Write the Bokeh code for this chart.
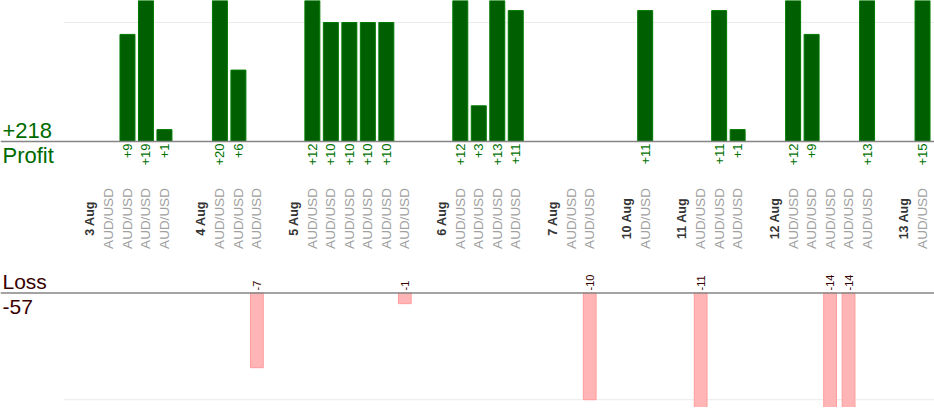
from math import pi
from bokeh.plotting import figure
from bokeh.models import Range1d, Span
from bokeh.core.properties import value
from bokeh.embed import file_html
from bokeh.resources import INLINE

# ---------------- data ----------------
days = ["3 Aug", "4 Aug", "5 Aug", "6 Aug", "7 Aug", "10 Aug", "11 Aug", "12 Aug", "13 Aug"]
trades_per_day = [4, 3, 6, 4, 2, 1, 3, 5, 1]
pairs = ["AUD/USD"] * 29
results = [0, 9, 19, 1,
           20, 6, -7,
           12, 10, 10, 10, 10, -1,
           12, 3, 13, 11,
           0, -10,
           11,
           -11, 11, 1,
           12, 9, -14, -14, 13,
           15]
profit_title = "Profit"
loss_title = "Loss"

# ---------------- slot layout (blank, day, trades...) ----------------
slot = 0
day_x, trade_x = [], []
for d, n in zip(days, trades_per_day):
    slot += 1
    day_x.append(slot)
    slot += 1
    for _ in range(n):
        trade_x.append(slot)
        slot += 1
n_slots = slot

pos_x = [x for x, r in zip(trade_x, results) if r > 0]
pos_v = [r for r in results if r > 0]
neg_x = [x for x, r in zip(trade_x, results) if r < 0]
neg_v = [-r for r in results if r < 0]
total_profit = sum(pos_v)
total_loss = sum(neg_v)

W, H = 934, 407
SLOT_PX = 18.49
x0 = -71.5 / SLOT_PX
x1 = x0 + W / SLOT_PX

# profit scale (px per unit) and baseline position in px from top
P_PX, P_BASE = 11.9, 141.0
p_top = P_BASE / P_PX
p_bot = p_top - H / P_PX
# loss scale
L_PX, L_BASE = 10.67, 292.5
l_top = L_BASE / L_PX
l_bot = l_top - H / L_PX


def py(px):
    return p_top - px / P_PX


def ly(px):
    return l_top - px / L_PX


FONT = "Liberation Sans"

p = figure(width=W, height=H, output_backend="svg", toolbar_location=None,
           x_range=Range1d(x0, x1), y_range=Range1d(p_bot, p_top),
           x_axis_location=None, y_axis_location=None, min_border=0,
           outline_line_color=None, background_fill_color="white",
           border_fill_color="white")
p.extra_y_ranges = {"loss": Range1d(l_bot, l_top)}
p.grid.visible = False

gx0 = x0 + 63 / SLOT_PX
# light gridlines
p.segment(x0=[gx0], y0=[10], x1=[x1], y1=[10], line_color="#ebebeb", line_width=1)
p.segment(x0=[gx0], y0=[-10], x1=[x1], y1=[-10], line_color="#ebebeb", line_width=1,
          y_range_name="loss")

# bars
p.vbar(x=pos_x, top=pos_v, bottom=0, width=0.81, fill_color="#005f00",
       line_color="#007a00", line_width=1)
p.vbar(x=neg_x, top=0, bottom=[-v for v in neg_v], width=0.69, fill_color="#ffb5b5",
       line_color="#ff9c9c", line_width=1, y_range_name="loss")

# baselines
p.add_layout(Span(location=0, dimension="width", line_color="#858585", line_width=1.3))
p.add_layout(Span(location=0, dimension="width", line_color="#858585", line_width=1.3,
                  y_range_name="loss"))

# value labels
p.text(x=pos_x, y=[py(143)] * len(pos_x), text=["+%d" % v for v in pos_v], angle=pi / 2,
       text_align="right", text_baseline="middle", text_font=value(FONT),
       text_font_size="13px", text_color="#007000")
p.text(x=neg_x, y=[ly(290)] * len(neg_x), text=["-%d" % v for v in neg_v], angle=pi / 2,
       text_align="left", text_baseline="middle", text_font=value(FONT),
       text_font_size="11px", text_color="#330000", y_range_name="loss")

# category labels
y_cat = py(218)
p.text(x=day_x, y=[y_cat] * len(day_x), text=days, angle=pi / 2, text_align="center",
       text_baseline="middle", text_font=value(FONT), text_font_size="12.5px",
       text_font_style="bold", text_color="#333333")
p.text(x=trade_x, y=[y_cat] * len(trade_x), text=pairs, angle=pi / 2, text_align="center",
       text_baseline="middle", text_font=value(FONT), text_font_size="13.5px",
       text_color="#a0a0a0")

# panel titles / totals
xl = x0 + 2 / SLOT_PX
p.text(x=[xl], y=[py(129.5)], text=["+%d" % total_profit], text_align="left",
       text_baseline="middle", text_font=value(FONT), text_font_size="22px",
       text_color="#006a00")
p.text(x=[xl], y=[py(154.5)], text=[profit_title], text_align="left",
       text_baseline="middle", text_font=value(FONT), text_font_size="22px",
       text_color="#006a00")
p.text(x=[xl], y=[ly(281)], text=[loss_title], text_align="left",
       text_baseline="middle", text_font=value(FONT), text_font_size="21px",
       text_color="#3a0000", y_range_name="loss")
p.text(x=[xl], y=[ly(306.5)], text=["-%d" % total_loss], text_align="left",
       text_baseline="middle", text_font=value(FONT), text_font_size="21px",
       text_color="#3a0000", y_range_name="loss")

open("out.html", "w").write(file_html(p, INLINE))
